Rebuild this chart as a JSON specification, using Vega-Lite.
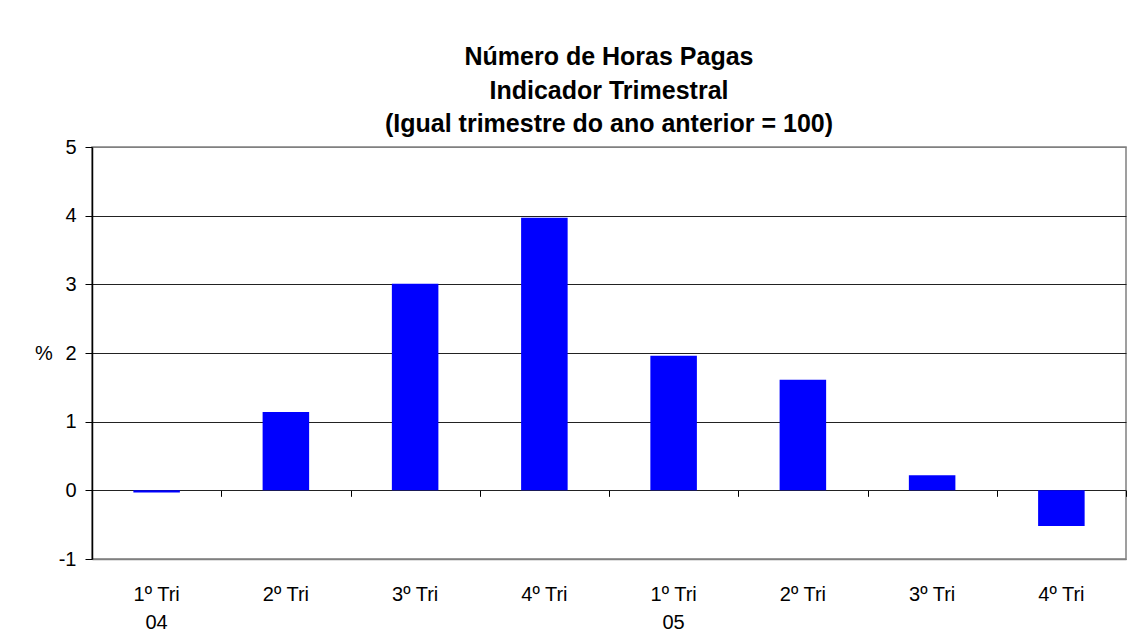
{
  "$schema": "https://vega.github.io/schema/vega-lite/v6.json",
  "width": 1034,
  "height": 412,
  "padding": {"left": 34, "top": 45, "right": 5, "bottom": 0},
  "background": "white",
  "title": {
    "text": ["Número de Horas Pagas", "Indicador Trimestral", "(Igual trimestre do ano anterior = 100)"],
    "font": "Liberation Sans",
    "fontSize": 25,
    "fontWeight": "bold",
    "lineHeight": 33.5,
    "color": "#000000",
    "anchor": "middle",
    "offset": 0
  },
  "config": {
    "font": "Liberation Sans",
    "view": {"stroke": "#808080", "strokeWidth": 1.5}
  },
  "data": {
    "values": [
      {"periodo": "1º Tri 04", "valor": -0.03},
      {"periodo": "2º Tri 04", "valor": 1.14},
      {"periodo": "3º Tri 04", "valor": 3.01},
      {"periodo": "4º Tri 04", "valor": 3.97},
      {"periodo": "1º Tri 05", "valor": 1.96},
      {"periodo": "2º Tri 05", "valor": 1.61},
      {"periodo": "3º Tri 05", "valor": 0.22},
      {"periodo": "4º Tri 05", "valor": -0.52}
    ]
  },
  "resolve": {"axis": {"x": "independent"}, "scale": {"x": "independent"}},
  "layer": [
    {
      "mark": {"type": "bar", "color": "#0000FF"},
      "encoding": {
        "x": {
          "field": "periodo",
          "type": "nominal",
          "sort": null,
          "title": null,
          "scale": {"paddingInner": 0.64, "paddingOuter": 0.32},
          "axis": {
            "orient": "bottom",
            "labelAngle": 0,
            "labelFont": "Liberation Sans",
            "labelFontSize": 20,
            "labelColor": "#000000",
            "labelPadding": 25,
            "labelLineHeight": 28,
            "labelExpr": "[slice(datum.value, 0, 6), indexof(datum.value, '1º') == 0 ? slice(datum.value, 7) : '']",
            "ticks": false,
            "domainColor": "#808080",
            "domainWidth": 1.5,
            "grid": false
          }
        },
        "y": {
          "field": "valor",
          "type": "quantitative",
          "title": "%",
          "scale": {"domain": [-1, 5], "nice": false, "zero": false},
          "axis": {
            "values": [-1, 0, 1, 2, 3, 4, 5],
            "labelExpr": "'' + datum.value",
            "labelFontSize": 20,
            "labelColor": "#000000",
            "labelPadding": 9,
            "tickSize": 7,
            "tickColor": "#000000",
            "domainColor": "#000000",
            "domainWidth": 1.5,
            "gridColor": {"condition": {"test": "datum.value == 5 || datum.value == -1", "value": "#808080"}, "value": "#222222"},
            "gridWidth": 1,
            "titleAngle": 0,
            "titleFontSize": 20,
            "titleFontWeight": "normal",
            "titleColor": "#000000",
            "titleBaseline": "middle",
            "titleAlign": "right",
            "titlePadding": 6
          }
        }
      }
    },
    {
      "mark": {"type": "bar", "opacity": 0},
      "encoding": {
        "x": {
          "field": "periodo",
          "type": "nominal",
          "sort": null,
          "title": null,
          "scale": {"paddingInner": 0, "paddingOuter": 0},
          "axis": {
            "orient": "bottom",
            "offset": -68.67,
            "labels": false,
            "domain": false,
            "ticks": true,
            "tickBand": "extent",
            "tickSize": 6,
            "tickColor": "#000000",
            "tickWidth": 1,
            "grid": false,
            "title": null
          }
        },
        "y": {"field": "valor", "type": "quantitative"}
      }
    }
  ]
}
